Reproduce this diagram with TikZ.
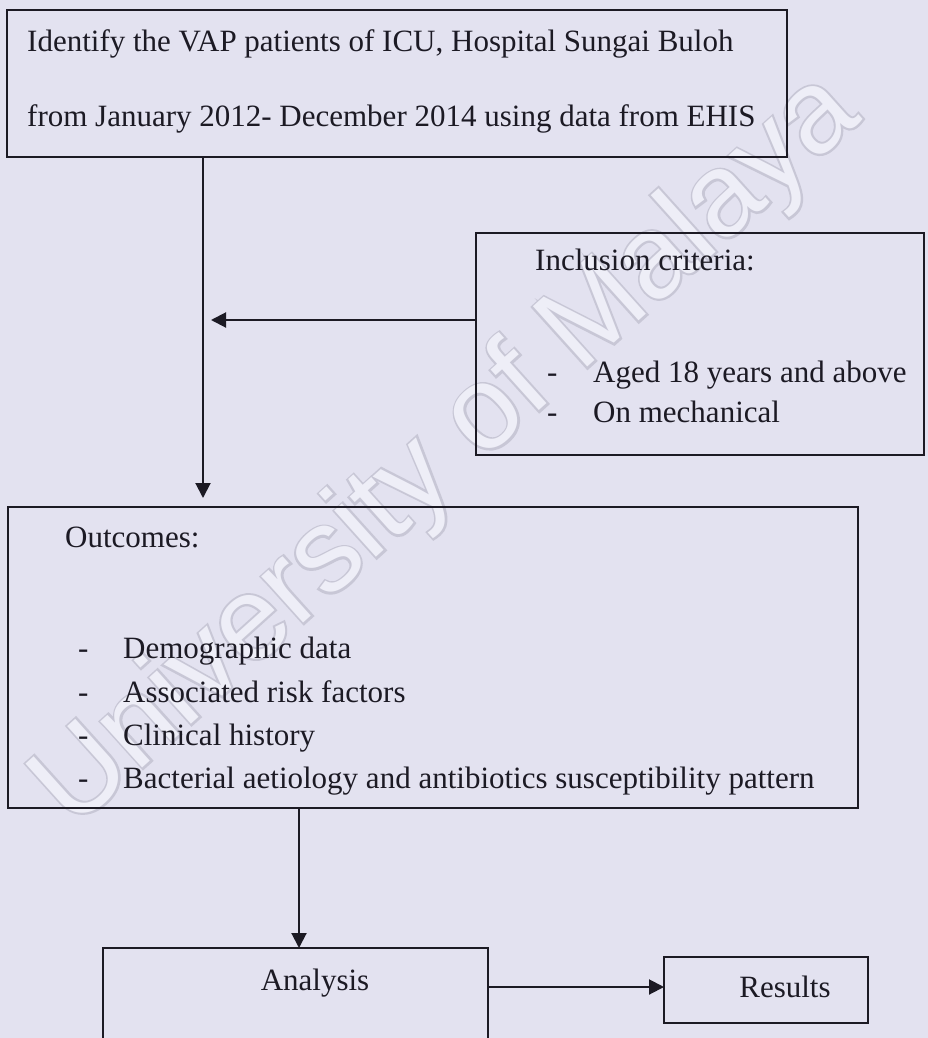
\documentclass[tikz,border=0pt]{standalone}
\usepackage{fontspec}
\setmainfont{Liberation Serif}
\newfontfamily\wmfont{Liberation Sans}
\newfontfamily\wmfontbold[FakeBold=3.5]{Liberation Sans}
\usetikzlibrary{arrows.meta}
\definecolor{bg}{RGB}{227,226,240}
\definecolor{ink}{RGB}{28,26,36}
\definecolor{wmline}{RGB}{200,199,214}
\definecolor{wmfill}{RGB}{238,238,247}
\begin{document}
\begin{tikzpicture}[x=1pt,y=-1pt,
  box/.style={draw=ink, line width=2.6pt, inner sep=0pt, outer sep=0pt},
  lbl/.style={anchor=base west, inner sep=0pt, text=ink, font=\fontsize{31}{37}\selectfont},
  clbl/.style={anchor=base, inner sep=0pt, text=ink, font=\fontsize{31}{37}\selectfont},
  conn/.style={draw=ink, line width=2pt, -{Triangle[length=15pt,width=15pt]}},
  wm/.style={rotate=42, inner sep=0pt}]
\useasboundingbox (0,0) rectangle (928,1038);
\fill[bg] (0,0) rectangle (928,1038);
\clip (0,0) rectangle (928,1038);
% watermark (outline under, light fill over)
\node[wm, text=wmline, font=\wmfontbold\fontsize{118}{118}\selectfont] (wmo) at (448,452) {University of Malaya};
\node[wm, text=wmfill, font=\wmfont\fontsize{118}{118}\selectfont] (wm) at (448,452) {University of Malaya};
% boxes
\node[box, minimum width=780pt, minimum height=147pt] (b1) at (397,83.5) {};
\node[box, minimum width=448pt, minimum height=222pt] (b2) at (700,344) {};
\node[box, minimum width=850pt, minimum height=301pt] (b3) at (433,657.5) {};
\node[box, minimum width=385pt, minimum height=122pt] (b4) at (295.5,1009) {};
\node[box, minimum width=204pt, minimum height=66pt] (b5) at (766,990) {};
% texts
\node[lbl] (t11) at (27,52) {Identify the VAP patients of ICU, Hospital Sungai Buloh};
\node[lbl] (t12) at (27,127) {from January 2012- December 2014 using data from EHIS};
\node[lbl] (t21) at (535,270) {Inclusion criteria:};
\node[lbl] (d22) at (547,382) {-};
\node[lbl] (t22) at (593,382) {Aged 18 years and above};
\node[lbl] (d23) at (547,422) {-};
\node[lbl] (t23) at (593,422) {On mechanical};
\node[lbl] (t31) at (65,547) {Outcomes:};
\node[lbl] (d32) at (78,658) {-};
\node[lbl] (t32) at (123,658) {Demographic data};
\node[lbl] (d33) at (78,702) {-};
\node[lbl] (t33) at (123,702) {Associated risk factors};
\node[lbl] (d34) at (78,745) {-};
\node[lbl] (t34) at (123,745) {Clinical history};
\node[lbl] (d35) at (78,788) {-};
\node[lbl] (t35) at (123,788) {Bacterial aetiology and antibiotics susceptibility pattern};
\node[clbl] (t4) at (315,990) {Analysis};
\node[clbl] (t5) at (785,997) {Results};
% connectors
\coordinate (j1) at (203,320);
\coordinate (j2) at (299,0);
\coordinate (j3) at (0,987);
\draw[conn, shorten >=9pt] (b1.south -| j1) -- (b3.north -| j1);
\draw[conn, shorten >=8pt] (b2.west |- j1) -- (j1);
\draw[conn] (b3.south -| j2) -- (b4.north -| j2);
\draw[conn] (b4.east |- j3) -- (b5.west |- j3);
\end{tikzpicture}
\end{document}
